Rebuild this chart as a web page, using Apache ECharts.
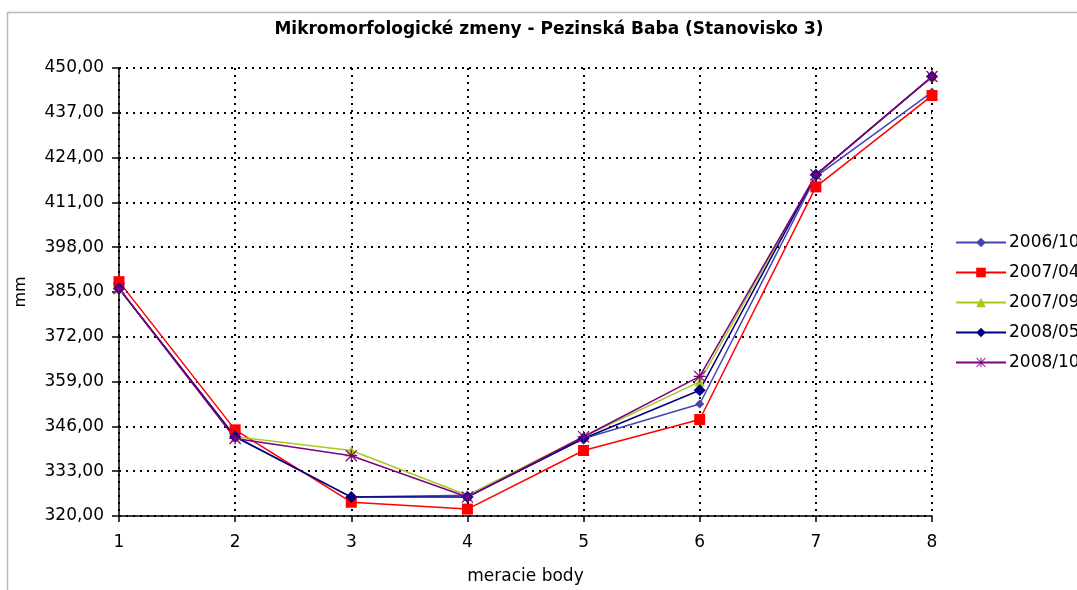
<!DOCTYPE html>
<html>
<head>
<meta charset="utf-8">
<script src="https://cdn.jsdelivr.net/npm/echarts@6/dist/echarts.min.js"></script>
<style>
html,body{margin:0;padding:0;background:#fff;}
#chart{width:1077px;height:590px;}
</style>
</head>
<body>
<div id="chart"></div>
<script>
var categories = ['1','2','3','4','5','6','7','8'];
var seriesNames = ['2006/10','2007/04','2007/09','2008/05','2008/10'];
var s2006_10 = [386, 343, 325.5, 326, 342.5, 352.5, 418.5, 443];
var s2007_04 = [388, 345, 324, 322, 339, 348, 415.5, 442];
var s2007_09 = [386, 343, 339, 326, 343, 359, 419, 447.5];
var s2008_05 = [386, 343, 325.5, 325.5, 342.5, 356.5, 419, 447.5];
var s2008_10 = [386, 342.5, 337.5, 325.5, 343, 360.5, 419, 447.5];
var yMin = 320, yMax = 450, yStep = 13;

var FONT = '"DejaVu Sans", "Liberation Sans", Arial, sans-serif';
var star = 'path://M9,0L11,0L11,20L9,20ZM0,9L20,9L20,11L0,11ZM1.4,0L20,18.6L18.6,20L0,1.4ZM18.6,0L20,1.4L1.4,20L0,18.6Z';

function mk(name, data, color, symbol, size) {
  return {
    name: name, type: 'line', data: data,
    symbol: symbol, symbolSize: size, showSymbol: true,
    lineStyle: {color: color, width: 1.5},
    itemStyle: {color: color},
    emphasis: {disabled: true},
    animation: false
  };
}

var chart = echarts.init(document.getElementById('chart'));
chart.setOption({
  backgroundColor: '#fff',
  animation: false,
  graphic: [{
    type: 'rect', left: 5, top: 10, shape: {width: 1200, height: 700},
    style: {fill: 'none', stroke: '#b8b8b8', lineWidth: 1.5}, silent: true
  }],
  title: {
    text: 'Mikromorfologické zmeny - Pezinská Baba (Stanovisko 3)',
    left: 544, top: 16, textAlign: 'center',
    textStyle: {fontFamily: FONT, fontSize: 17, fontWeight: 'bold', color: '#000'}
  },
  legend: {
    orient: 'vertical', left: 950, top: 229,
    itemWidth: 50, itemHeight: 12, itemGap: 13,
    textStyle: {fontFamily: FONT, fontSize: 17, color: '#000', padding: [0,0,0,-2]},
    data: seriesNames
  },
  grid: {left: 119, right: 145, top: 68, bottom: 72, containLabel: false},
  xAxis: {
    type: 'category', data: categories, boundaryGap: false,
    name: 'meracie body', nameLocation: 'middle', nameGap: 52,
    nameTextStyle: {fontFamily: FONT, fontSize: 17, color: '#000'},
    axisLine: {lineStyle: {color: '#000', width: 1.5}},
    axisTick: {show: true, length: 6, lineStyle: {color: '#000', width: 1.5}},
    axisLabel: {fontFamily: FONT, fontSize: 17, color: '#000', margin: 18},
    splitLine: {show: true, lineStyle: {color: '#000', type: [2, 5], width: 2}}
  },
  yAxis: {
    type: 'value', min: yMin, max: yMax, interval: yStep,
    name: 'mm', nameLocation: 'middle', nameGap: 90, nameRotate: 90,
    nameTextStyle: {fontFamily: FONT, fontSize: 16, color: '#000'},
    axisLine: {show: true, lineStyle: {color: '#000', width: 1.5}},
    axisTick: {show: true, length: 7, lineStyle: {color: '#000', width: 1.5}},
    axisLabel: {fontFamily: FONT, fontSize: 17, color: '#000', margin: 15,
      formatter: function (v) { return v.toFixed(2).replace('.', ','); }},
    splitLine: {show: true, lineStyle: {color: '#000', type: [2, 5], width: 2}}
  },
  series: [
    mk(seriesNames[0], s2006_10, '#4444b4', 'diamond', 9),
    mk(seriesNames[1], s2007_04, '#ff0000', 'rect', 11),
    mk(seriesNames[2], s2007_09, '#a4cc1c', 'triangle', 10),
    mk(seriesNames[3], s2008_05, '#000080', 'diamond', 12),
    mk(seriesNames[4], s2008_10, '#800080', star, 12)
  ]
});
</script>
</body>
</html>
